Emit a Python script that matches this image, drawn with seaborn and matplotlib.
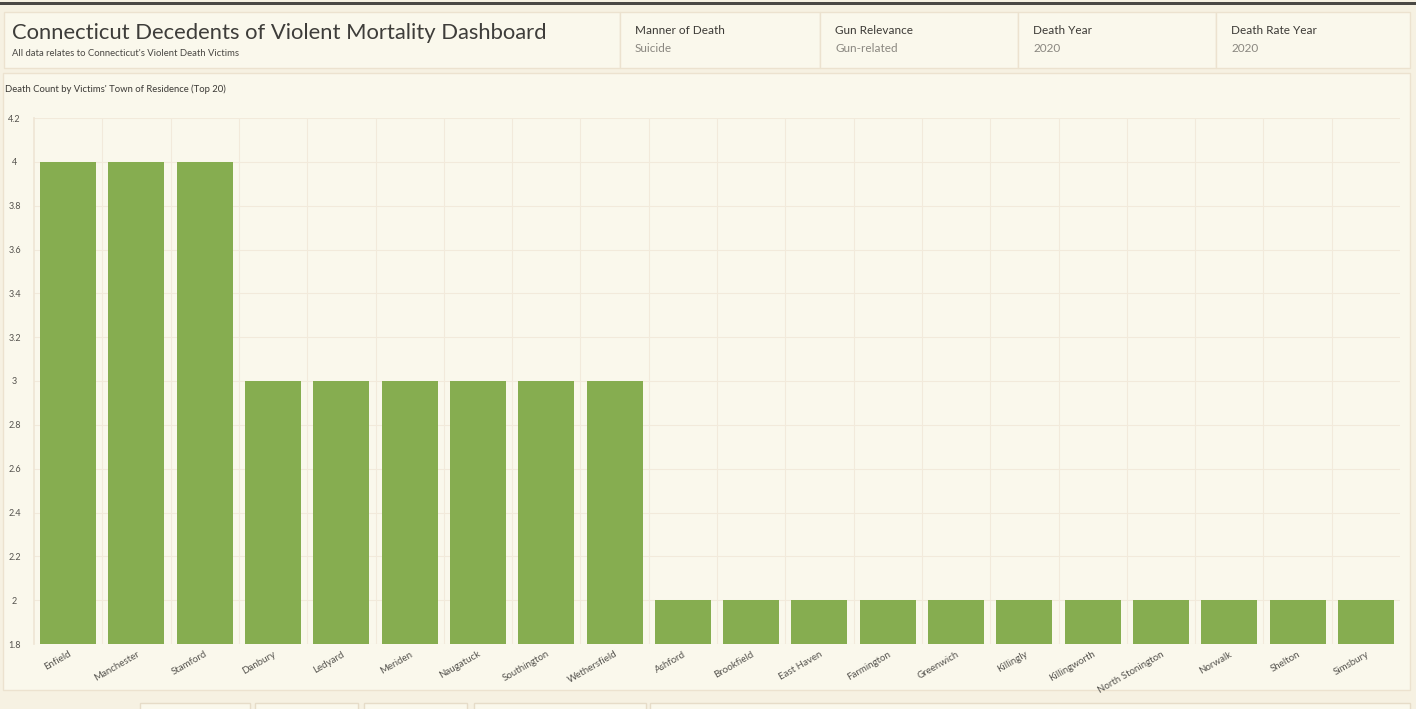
"""Connecticut violent mortality dashboard: death count by victims' town of residence"""

from matplotlib import pyplot as plt
from matplotlib.patches import Rectangle
from matplotlib.ticker import FixedLocator
import seaborn as sns
import pandas as pd

towns = ['Enfield', 'Manchester', 'Stamford', 'Danbury', 'Ledyard', 'Meriden',
         'Naugatuck', 'Southington', 'Wethersfield', 'Ashford', 'Brookfield',
         'East Haven', 'Farmington', 'Greenwich', 'Killingly', 'Killingworth',
         'North Stonington', 'Norwalk', 'Shelton', 'Simsbury']
deaths = [4, 4, 4, 3, 3, 3, 3, 3, 3, 2, 2, 2, 2, 2, 2, 2, 2, 2, 2, 2]

y_ticks = [1.8, 2, 2.2, 2.4, 2.6, 2.8, 3, 3.2, 3.4, 3.6, 3.8, 4, 4.2]
y_labels = ['1.8', '2', '2.2', '2.4', '2.6', '2.8', '3', '3.2', '3.4', '3.6',
            '3.8', '4', '4.2']

filter_names = ['Manner of Death', 'Gun Relevance', 'Death Year', 'Death Rate Year']
filter_values = ['Suicide', 'Gun-related', '2020', '2020']

df = pd.DataFrame({'town': towns, 'deaths': deaths})

sns.set_theme(style='white')
plt.rcParams['font.family'] = ['Lato', 'DejaVu Sans']

W, H = 1416, 709
fig = plt.figure(figsize=(W / 100, H / 100), dpi=100)
fig.patch.set_facecolor('#f6f1e2')


def box(x, y, w, h, face='#faf8ec', edge='#ece2cf', lw=1.0):
    """draw a panel in pixel coords (top-left origin)"""
    fig.patches.append(Rectangle((x / W, 1 - (y + h) / H), w / W, h / H,
                                 transform=fig.transFigure, facecolor=face,
                                 edgecolor=edge, linewidth=lw, zorder=-1))


def ftext(x, y, s, **kw):
    fig.text(x / W, 1 - y / H, s, **kw)


# top dark rule
box(0, 2, W, 3, face='#4a4844', edge='none')

# header panels
box(4, 12, 616, 56)
xs = [620, 820, 1018, 1216]
for i, (name, val) in enumerate(zip(filter_names, filter_values)):
    right = xs[i + 1] if i + 1 < len(xs) else 1410
    box(xs[i], 12, right - xs[i], 56)
    ftext(xs[i] + 15, 31, name, fontsize=8.5, color='#3c3a36', va='center')
    ftext(xs[i] + 15, 49, val, fontsize=8.5, color='#8a8780', va='center')

ftext(12, 33, 'Connecticut Decedents of Violent Mortality Dashboard',
      fontsize=15.8, color='#3e3d3a', va='center')
ftext(12, 54, "All data relates to Connecticut's Violent Death Victims",
      fontsize=6.8, color='#4a4844', va='center')

# chart panel
box(3, 73, 1407, 617)
ftext(5, 89, "Death Count by Victims' Town of Residence (Top 20)",
      fontsize=6.8, color='#3c3a36', va='center')

# bottom tabs
for x0, x1 in [(140, 250), (255, 358), (364, 467), (474, 646), (650, 1410)]:
    box(x0, 703, x1 - x0, 10, face='#faf8ec', edge='#e6dcc8')

ax = fig.add_axes([34 / W, 1 - 644 / H, 1366 / W, 526 / H])
ax.set_zorder(2)
ax.set_facecolor('#faf8ec')
sns.barplot(data=df, x='town', y='deaths', color='#86ad50', width=0.82,
            saturation=1, edgecolor='none', ax=ax, zorder=3)

ax.set_ylim(1.8, 4.2)
ax.set_xlim(-0.5, len(towns) - 0.5)
ax.set_yticks(y_ticks)
ax.set_yticklabels(y_labels)
ax.xaxis.set_minor_locator(FixedLocator([i + 0.5 for i in range(len(towns) - 1)]))
ax.set_axisbelow(True)
ax.grid(axis='y', which='major', color='#f2eadb', linewidth=0.8)
ax.grid(axis='x', which='minor', color='#f2eadb', linewidth=0.8)
ax.grid(axis='x', which='major', visible=False)
for side in ['top', 'right', 'bottom']:
    ax.spines[side].set_visible(False)
ax.spines['left'].set_color('#efe6d6')
ax.tick_params(axis='both', which='both', length=0, labelsize=6.5,
               colors='#55534e')
ax.tick_params(axis='y', pad=14)
for lbl in ax.get_yticklabels():
    lbl.set_horizontalalignment('center')
ax.tick_params(axis='x', labelsize=7, pad=4)
plt.setp(ax.get_xticklabels(), rotation=30, ha='right', rotation_mode='anchor')
ax.set_xlabel('')
ax.set_ylabel('')

fig.savefig('out.png', dpi=100, facecolor=fig.get_facecolor())
